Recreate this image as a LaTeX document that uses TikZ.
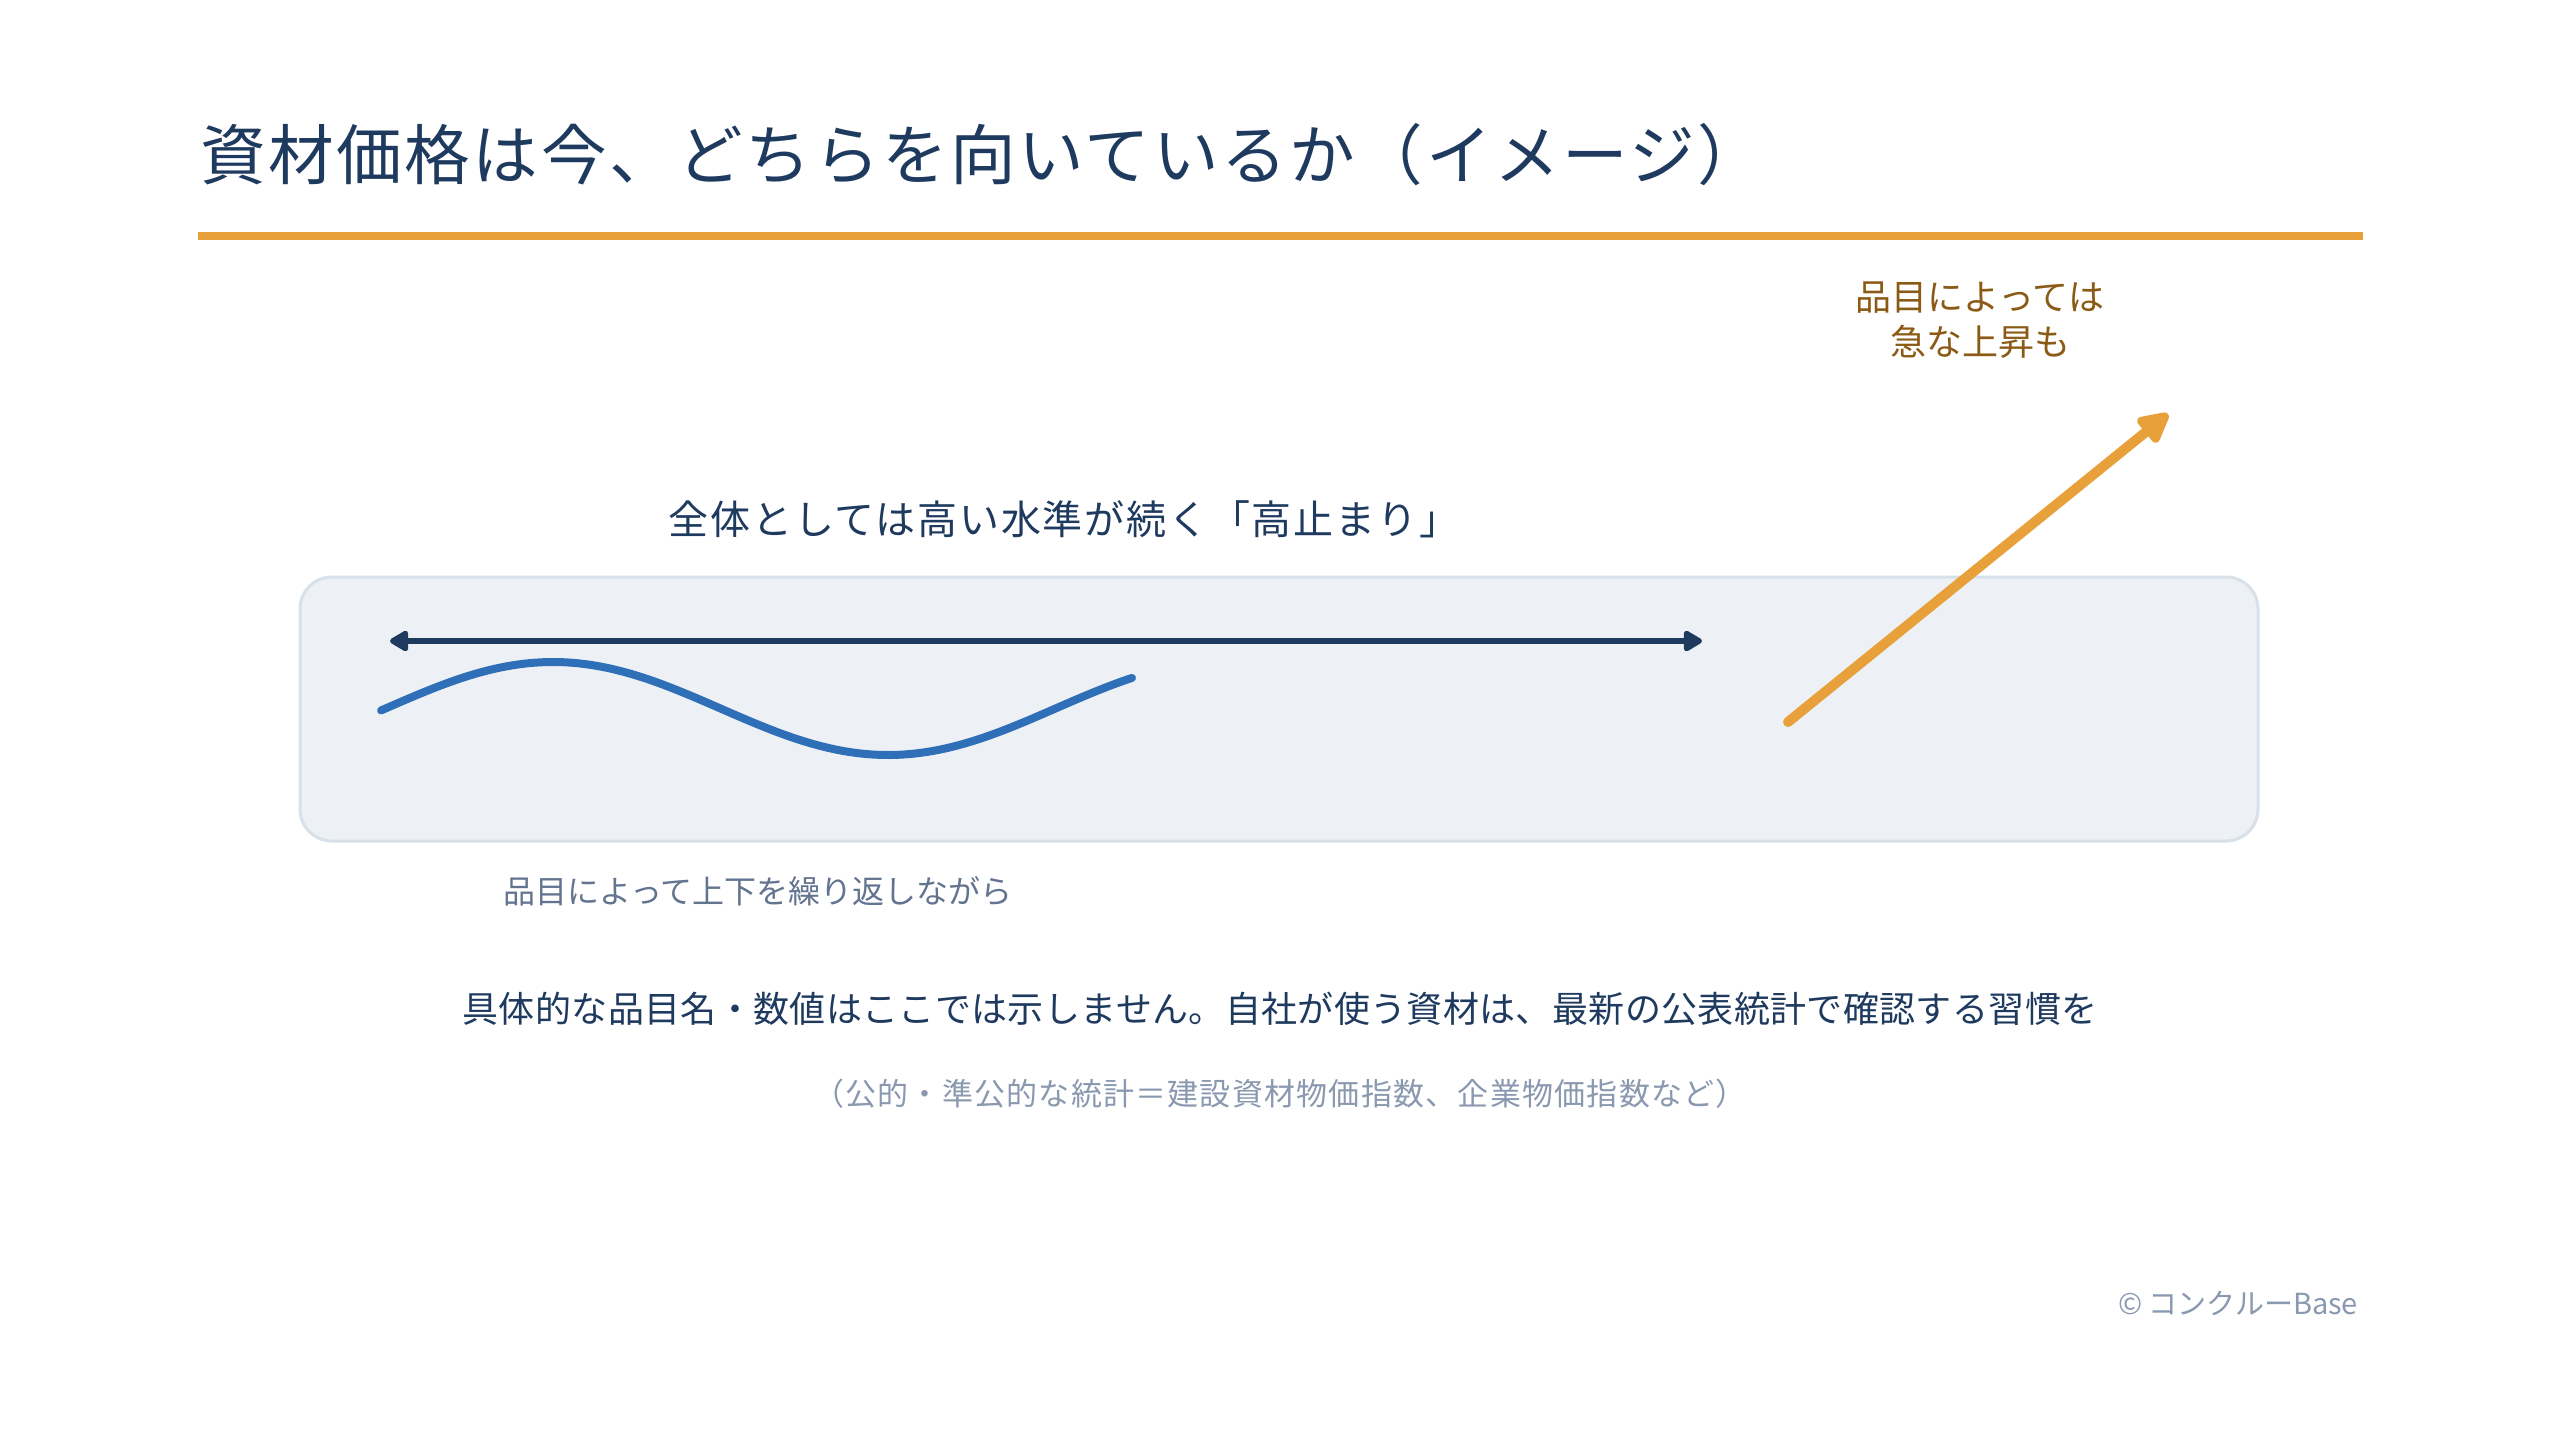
\documentclass[tikz,border=0pt]{standalone}
\usepackage{fontspec}
\setmainfont{Noto Sans CJK JP}
\usetikzlibrary{arrows.meta}
\definecolor{navy}{HTML}{1F3A5F}
\definecolor{accent}{HTML}{E8A03A}
\definecolor{boxfill}{HTML}{EDF1F6}
\definecolor{boxline}{HTML}{D8E0EA}
\definecolor{wave}{HTML}{2F6FB8}
\definecolor{brown}{HTML}{8B5A14}
\definecolor{muted}{HTML}{62748F}
\definecolor{light}{HTML}{8A99AF}
\tikzset{
  txt/.style={inner sep=0pt, outer sep=0pt},
}
\begin{document}
\begin{tikzpicture}[x=0.5pt,y=-0.5pt]
\useasboundingbox[fill=white] (0,0) rectangle (2560,1440);
% title
\node[txt, anchor=west, text=navy, font=\fontsize{32.8pt}{40pt}\selectfont\addfontfeature{LetterSpace=4}] (title) at (200,155) {資材価格は今、どちらを向いているか（イメージ）};
\fill[accent] (198,232) rectangle (2363,240);
% box
\draw[fill=boxfill, draw=boxline, line width=1.5pt, rounded corners=16pt] (300,577) rectangle (2258,841);
% label above
\node[txt, text=navy, font=\fontsize{20pt}{24pt}\selectfont\addfontfeature{LetterSpace=4.5}] (plateau) at (1064,519) {全体としては高い水準が続く「高止まり」};
% double arrow
\coordinate (la) at (390,641);
\coordinate (ra) at (1702,641);
\draw[navy, line width=3pt, {Triangle[length=10.5pt,width=11.5pt,round]}-{Triangle[length=10.5pt,width=11.5pt,round]}] (la) -- (ra);
% wave
\draw[wave, line width=4pt, line cap=round] plot[domain=381:1132, samples=100, smooth] (\x, {708.5 - 46.5*cos((\x-553)/670*360)});
% orange arrow
\coordinate (os) at (1788,722);
\coordinate (oe) at (2168,414);
\draw[accent, line width=5pt, line cap=round, -{Triangle[length=17.5pt,width=17pt,round]}] (os) -- (oe);
\node[txt, align=center, text=brown, font=\fontsize{18pt}{22.5pt}\selectfont] (surge) at (1980,320) {品目によっては\\急な上昇も};
% below box
\node[txt, anchor=west, text=muted, font=\fontsize{16pt}{20pt}\selectfont] (repeat) at (503,891) {品目によって上下を繰り返しながら};
\node[txt, text=navy, font=\fontsize{18pt}{22pt}\selectfont\addfontfeature{LetterSpace=1}] (main) at (1280,1009) {具体的な品目名・数値はここでは示しません。自社が使う資材は、最新の公表統計で確認する習慣を};
\node[txt, text=light, font=\fontsize{15.5pt}{20pt}\selectfont\addfontfeature{LetterSpace=4}] (note) at (1280,1094) {（公的・準公的な統計＝建設資材物価指数、企業物価指数など）};
\node[txt, anchor=east, text=light, font=\fontsize{14.5pt}{18pt}\selectfont] (copy) at (2358,1303) {© コンクルーBase};
\end{tikzpicture}
\end{document}
